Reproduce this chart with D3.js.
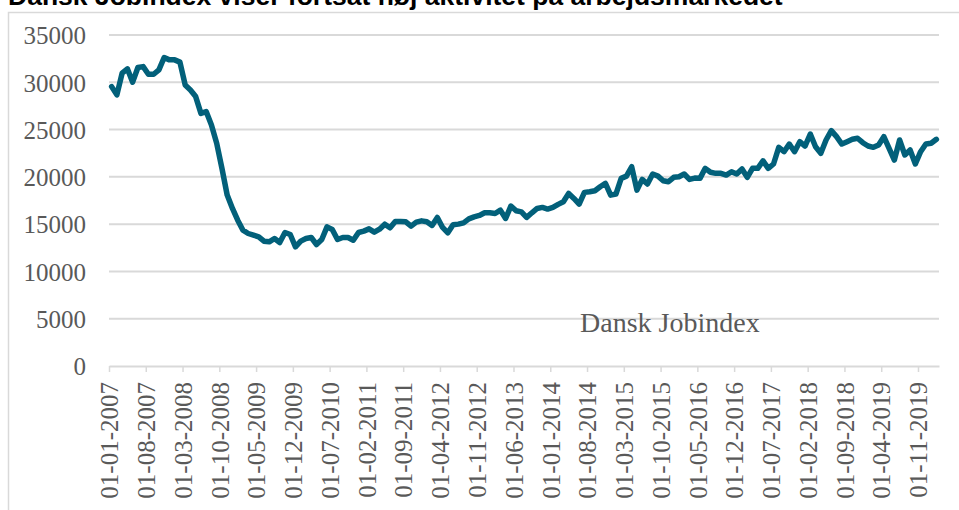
<!DOCTYPE html>
<html>
<head>
<meta charset="utf-8">
<script src="https://cdn.jsdelivr.net/npm/d3@7"></script>
<style>
  body { margin: 0; background: #fff; }
  svg { display: block; }
  .tick text { font-family: "Liberation Serif", serif; font-size: 25px; fill: #595959; }
</style>
</head>
<body>
<div id="chart"></div>
<script>
// Dansk Jobindex, monthly, jan 2007 - feb 2020
var title = 'Dansk Jobindex viser fortsat høj aktivitet på arbejdsmarkedet';
var seriesName = 'Dansk Jobindex';
var startYear = 2007;
var jobindex = [
  29540, 28670, 30960, 31420, 30010, 31560, 31660, 30850, 30850, 31310, 32620, 32370,
  32370, 32130, 29720, 29190, 28490, 26720, 26900, 25490, 23550, 20900, 18070, 16660,
  15420, 14360, 14010, 13830, 13660, 13200, 13130, 13480, 13060, 14120, 13910, 12600,
  13200, 13480, 13590, 12850, 13380, 14710, 14440, 13380, 13590, 13590, 13300, 14120,
  14260, 14500, 14150, 14470, 15000, 14610, 15290, 15290, 15250, 14790, 15210, 15350,
  15250, 14860, 15710, 14650, 14080, 14930, 15000, 15140, 15560, 15770, 15920, 16200,
  16200, 16130, 16480, 15600, 16910, 16410, 16300, 15710, 16200, 16660, 16770, 16590,
  16770, 17090, 17360, 18250, 17720, 17120, 18360, 18420, 18530, 18950, 19310, 18070,
  18180, 19840, 20080, 21070, 18600, 19730, 19240, 20300, 20080, 19590, 19480, 19950,
  20010, 20300, 19730, 19870, 19840, 20900, 20480, 20370, 20370, 20190, 20540, 20300,
  20830, 19950, 20900, 20900, 21700, 20900, 21360, 23120, 22660, 23470, 22660, 23720,
  23260, 24530, 23190, 22490, 23900, 24890, 24250, 23470, 23720, 23970, 24080, 23610,
  23260, 23120, 23370, 24250, 23020, 21780, 23900, 22310, 22840, 21360, 22660, 23470,
  23550, 23970
];
var yTicks = [0, 5000, 10000, 15000, 20000, 25000, 30000, 35000];
var tickEvery = 7;

(function() {
  // category labels 01-MM-YYYY
  var months = jobindex.map(function(v, i) {
    var m = i % 12 + 1, yr = startYear + Math.floor(i / 12);
    return '01-' + (m < 10 ? '0' + m : m) + '-' + yr;
  });
  var tickIdx = d3.range(0, months.length, tickEvery);

  var W = 959, H = 510;
  var plotL = 109, plotR = 939, plotT = 35, plotB = 366;

  var svg = d3.select('#chart').append('svg').attr('width', W).attr('height', H);

  // frame
  svg.append('path')
    .attr('d', 'M8.5,' + H + 'V12.5H' + W)
    .attr('fill', 'none').attr('stroke', '#d9d9d9').attr('stroke-width', 1.5);

  svg.append('text')
    .attr('x', 8).attr('y', 5)
    .attr('font-family', '"Liberation Sans", Arial, sans-serif')
    .attr('font-weight', 'bold').attr('font-size', 26.5)
    .attr('fill', '#000')
    .text(title);

  var x = d3.scaleLinear().domain([0, months.length]).range([plotL, plotR]);
  var y = d3.scaleLinear().domain([0, 35000]).range([plotB, plotT]);

  // gridlines
  svg.append('g').selectAll('line').data(yTicks.slice(1)).enter().append('line')
    .attr('x1', plotL).attr('x2', plotR)
    .attr('y1', function(d) { return y(d); }).attr('y2', function(d) { return y(d); })
    .attr('stroke', '#d9d9d9').attr('stroke-width', 2);

  var yAxis = svg.append('g').attr('transform', 'translate(' + plotL + ',0)')
    .call(d3.axisLeft(y).tickValues(yTicks).tickSize(0).tickPadding(23).tickFormat(d3.format('d')));
  yAxis.select('.domain').remove();
  yAxis.selectAll('text').attr('dy', '0.35em');

  var xAxis = svg.append('g').attr('transform', 'translate(0,' + plotB + ')')
    .call(d3.axisBottom(x).tickValues(tickIdx).tickSize(6).tickSizeOuter(0).tickFormat(function(i) { return months[i]; }));
  xAxis.select('.domain').attr('stroke', '#d9d9d9').attr('stroke-width', 2);
  xAxis.selectAll('.tick line').attr('stroke', '#d9d9d9').attr('stroke-width', 1.5);
  xAxis.selectAll('.tick text')
    .attr('transform', 'rotate(-90)')
    .attr('text-anchor', 'end')
    .attr('x', -16).attr('y', 0).attr('dy', '0.35em');

  var line = d3.line()
    .x(function(d, i) { return x(i + 0.5); })
    .y(function(d) { return y(d); });

  svg.append('path')
    .datum(jobindex)
    .attr('d', line)
    .attr('fill', 'none')
    .attr('stroke', '#02607a')
    .attr('stroke-width', 5.5)
    .attr('stroke-linejoin', 'round')
    .attr('stroke-linecap', 'round');

  svg.append('text')
    .attr('x', 580).attr('y', 332)
    .attr('font-family', '"Liberation Serif", serif')
    .attr('font-size', 28)
    .attr('fill', '#595959')
    .text(seriesName);
})();
</script>
</body>
</html>
